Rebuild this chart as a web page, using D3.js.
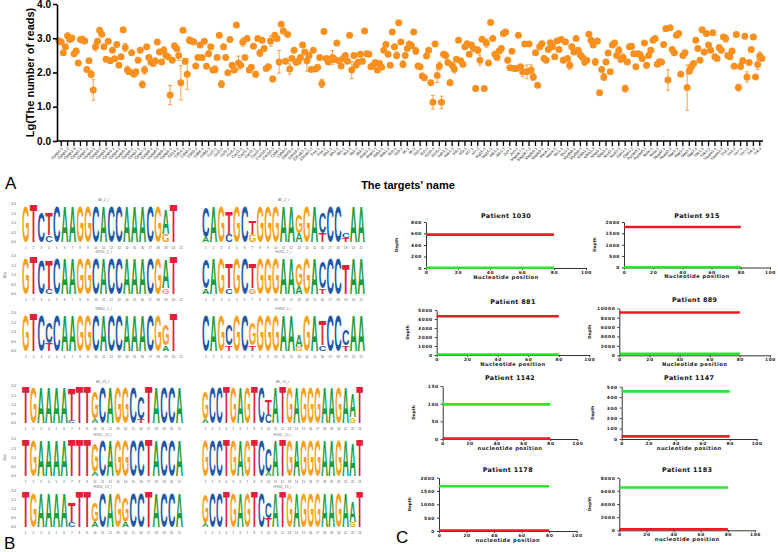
<!DOCTYPE html>
<html>
<head>
<meta charset="utf-8">
<script src="https://cdn.jsdelivr.net/npm/d3@7"></script>
<style>
  body { margin: 0; background: #fff; }
  svg { display: block; font-family: "Liberation Sans", Arial, sans-serif; }
</style>
</head>
<body>
<script>
// ---------- Panel A data ----------
var targets = [
  "Casp1-1","Casp1-2","Casp1-3","Casp2-1","Casp2-2","Casp3-1","Casp3-2","Casp3-3","Casp4-1","Casp4-2",
  "Casp6-1","Casp6-2","Casp7-1","Casp7-2","Casp8-1","Casp8-2","Casp9-1","Casp9-2","Cd14-1","Cd14-2",
  "Cd40-1","Cd40-2","Cd86-1","Cd86-2","Ccl2-1","Ccl2-2","Ccl5-1","Ccl5-2","Cxcl1-1","Cxcl1-2",
  "Cxcl2-1","Cxcl2-2","Cxcl10-1","Cxcl10-2","Cybb-1","Cybb-2","Ddx58-1","Ddx58-2","Eif2ak2-1","Eif2ak2-2",
  "Fos-1","Fos-2","Ifih1-1","Ifih1-2","Ifit1-1","Ifit1-2","Ifit3-1","Ifit3-2","Ifnar1-1","Ifnar1-2",
  "Ifnb1-1","Ifnb1-2","Il1b-1","Il1b-2","Il6-1","Il6-2","Il10-1","Il10-2","Il12b-1","Il12b-2",
  "Irak1-1","Irak1-2","Irf3-1","Irf3-2","Irf7-1","Irf7-2","Isg15-1","Isg15-2","Jak1-1","Jak1-2",
  "Jun-1","Jun-2","Map3k7-1","Map3k7-2","Mapk8-1","Mapk8-2","Mavs-1","Mavs-2","Mx1-1","Mx1-2",
  "Myd88-1","Myd88-2","Nfkb1-1","Nfkb1-2","Nlrp3-1","Nlrp3-2","Nod2-1","Nod2-2","Oas1-1","Oas1-2",
  "Pycard-1","Pycard-2","Rela-1","Rela-2","Rsad2-1","Rsad2-2","Stat1-1","Stat1-2","Stat2-1","Stat2-2",
  "Tbk1-1","Tbk1-2","Ticam1-1","Ticam1-2","Tlr3-1","Tlr3-2","Tlr7-1","Tlr7-2","Tnf-1","Tnf-2"
];

// three subtype means per target (All, H1N1, H3N2), lg of read count
var meanReads = [
  2.92,2.89,2.58,2.75,3.07,2.96,3.01,2.55,2.63,2.28,
  2.96,2.96,2.92,2.09,2.34,1.95,1.49,2.75,2.91,3.23,
  3.12,2.75,2.39,2.91,2.34,2.65,2.40,2.82,2.21,2.46,
  3.25,2.73,2.07,2.02,2.58,1.95,2.02,2.36,2.65,1.65,
  2.07,2.75,2.44,2.31,2.26,2.34,2.89,2.60,2.31,2.65,
  2.50,2.46,1.34,2.36,2.78,2.70,2.50,1.70,3.23,2.33,
  1.95,2.94,2.92,2.89,2.19,2.44,2.80,2.44,2.91,2.18,
  2.55,2.75,2.07,2.09,2.44,3.09,1.66,2.75,2.44,1.99,
  2.96,2.21,2.07,3.39,2.28,2.21,2.89,2.44,2.99,2.07,
  2.15,2.77,1.95,2.99,2.57,2.94,2.70,2.12,2.17,2.92,
  1.81,3.09,2.99,2.31,3.41,3.21,2.33,3.11,2.10,2.41,
  2.65,2.29,2.33,2.44,2.80,2.60,2.34,2.50,2.09,2.65,
  2.10,2.15,2.44,1.68,3.20,2.41,2.31,2.39,2.44,2.38,
  2.86,2.34,2.19,2.41,2.50,2.33,3.09,2.07,2.50,2.21,
  2.31,2.53,2.33,3.21,2.55,2.53,2.17,2.21,2.29,2.07,
  2.26,2.15,2.65,2.82,2.53,2.21,3.18,2.75,2.50,3.45,
  2.89,2.24,
  2.50,2.70,2.83,2.78,3.18,2.63,2.19,2.17,1.90,
  1.85,2.48,2.65,1.70,1.13,2.83,1.91,2.19,1.13,2.53,
  2.50,2.29,1.70,2.21,2.10,2.39,2.94,2.34,2.24,2.75,
  2.84,2.53,2.80,2.70,1.53,2.65,2.36,2.97,1.53,2.86,
  2.28,3.46,2.99,2.53,2.44,2.63,2.70,3.14,3.18,2.36,
  2.14,2.62,2.12,2.12,3.09,2.17,2.02,2.83,2.02,2.83,
  2.07,1.87,2.58,1.63,2.75,2.84,2.41,2.36,2.67,2.87,
  2.75,2.46,2.92,2.67,2.96,2.36,2.89,2.41,2.21,2.75,
  2.60,2.99,2.65,2.52,2.44,2.31,2.36,3.12,2.94,2.80,
  2.31,2.92,1.41,2.09,1.87,2.31,2.57,2.02,2.80,2.86,
  2.50,2.65,2.38,2.44,1.53,2.31,2.75,2.77,2.55,2.17,
  2.55,2.52,2.41,2.86,2.21,2.50,2.65,2.94,2.99,2.24,
  2.31,2.31,2.82,3.28,1.78,3.31,2.67,2.58,3.09,3.14,
  1.95,2.50,2.58,1.56,2.04,2.17,2.26,2.94,2.70,2.36,
  3.25,2.60,3.14,2.80,2.65,3.16,2.46,2.41,2.73,2.65,
  3.04,2.99,2.50,2.46,2.63,2.18,3.11,1.56,2.18,2.34,
  3.06,1.87,2.29,2.67,3.04,1.87,2.23,2.48,2.41
];

// [point index, SD] for the points that show an error bar
var readsSD = [
  [11,0.1],[15,0.1],[16,0.3],[17,0.12],[31,0.12],[32,0.12],[39,0.1],[40,0.12],[49,0.1],[52,0.28],
  [56,0.15],[57,0.5],[59,0.08],[60,0.45],[61,0.1],[70,0.08],[73,0.1],[76,0.1],[84,0.2],[86,0.12],
  [92,0.08],[94,0.1],[99,0.15],[100,0.08],[103,0.33],[108,0.15],[116,0.3],[123,0.12],[128,0.2],[137,0.25],
  [158,0.1],[161,0.1],[167,0.1],[175,0.2],[177,0.2],[178,0.12],[179,0.18],[181,0.1],[183,0.08],[185,0.12],
  [195,0.08],[196,0.1],[197,0.15],[200,0.12],[210,0.08],[217,0.15],[219,0.2],[221,0.15],[222,0.1],[227,0.08],
  [239,0.12],[240,0.08],[246,0.1],[248,0.06],[249,0.08],[251,0.1],[255,0.1],[262,0.1],[264,0.1],[265,0.1],
  [275,0.08],[281,0.08],[285,0.3],[291,0.06],[294,0.66],[296,0.1],[301,0.06],[312,0.1],[318,0.1],[319,0.1],
  [320,0.08],[322,0.15],[327,0.15],[328,0.12]
];
var readTicks = [0, 1, 2, 3, 4];

// ---------- Panel B data ----------
var logoTitles = [
  "All_2_l","All_2_r","H1N1_2_l","H1N1_2_r","H3N2_2_l","H3N2_2_r",
  "All_13_l","All_13_r","H1N1_13_l","H1N1_13_r","H3N2_13_l","H3N2_13_r"
];
// one token per position, letters listed top to bottom with their height in bits
var logoColumns = [
  "G1.9 T2 C1.6 T1.2C.35 C1.9 A1.9 A1.9 G1.9 G1.9 C1.9 A1.9 C1.9 C1.9 A1.9 A1.9 A1.9 C1.9 G1.9 A1.3G.4 T2 -",
  "C1.6A.25 A1.9 G1.9 T1.2C.4 G1.9 C1.9 T.7G.4 G1.9 G1.9 G1.9 A1.9 A1.9 G1A.5 G1.9 A1.9 C1.1T.5 C1.9 C1.9 C.3T.2 A1.9 A1.9",
  "G1.9 T2 C1.8 T1.5C.25 C1.9 A1.9 A1.9 G1.9 G1.9 C1.9 A1.9 C1.9 C1.9 A1.9 A1.9 A1.9 C1.9 G1.9 A1.5G.3 T2 -",
  "C1.5A.3 A1.9 G1.9 T1.3C.3 G1.9 C1.9 T1.3G.3 G1.9 G1.9 G1.9 A1.9 A1.9 G1.2A.4 G1.9 A1.9 C1.4T.3 C1.9 C1.9 T1.6 A1.9 A1.9",
  "G1.9 T2 C1.9 C1.1T.4 C1.9 A1.9 A1.9 G1.9 G1.9 C1.9 A1.9 C1.9 C1.9 A1.9 A1.9 A1.9 C1.9 G1.9 G1.1A.3 T2 -",
  "C1.9 A1.9 G1.9 C1.1T.3 G1.9 C1.9 G1.2T.3 G1.9 G1.9 G1.9 A1.9 A1.9 A.6G.2 G1.9 A1.9 T1.3C.3 C1.9 C1.9 C.8T.3 A1.9 A1.9",
  "T2 G1.9 A1.9 A1.9 A1.9 A1.9 T1.8C.1 T2 T2 G1.5A.2 C1.9 A1.9 G1.9 G1.9 C1.9 C1.2T.2 T2 A1.9 C1.9 C1.9 A1.9",
  "G1.5A.2 C1.9 C1.9 T2 G1.9 A1.9 G1.9 T2 C1.9 T.8C.5 A1.9 T2 G1.9 A1.9 G1.9 G1.9 G1.9 A1.9 A1.9 G1.9 A1.9 A1.3G.3 T2",
  "T2 G1.9 A1.9 A1.9 A1.9 A1.9 T2 T2 T2 G1.6A.2 C1.9 A1.9 G1.9 G1.9 C1.9 C1.9 T2 A1.9 C1.9 C1.9 A1.9",
  "G1.9 C1.9 C1.9 T2 G1.9 A1.9 G1.9 T2 C1.9 C1.3A.2 A1.9 T2 G1.9 A1.9 G1.9 G1.9 G1.9 A1.9 A1.9 G1.9 A1.9 A1.8 T2",
  "T2 G1.9 A1.9 A1.9 A1.9 A1.9 T1.1C.3 T2 T2 G1.1A.3 C1.9 A1.9 G1.9 G1.4A.3 C1.9 C1.9 T2 A1.9 C1.9 C1.9 A1.9",
  "G1.6A.2 C1.9 C1.9 T2 G1.9 A1.9 G1.9 T2 C1.9 C.9T.5 A1.9 T2 G1.9 A1.9 G1.9 G1.9 G1.9 A1.9 A1.9 G1.9 A1.9 A1.2G.3 T2"
];
var bitTicks = [0, 0.5, 1, 1.5, 2];

// ---------- Panel C data ----------
var patients   = ["Patient 1030","Patient 915","Patient 881","Patient 889","Patient 1142","Patient 1147","Patient 1178","Patient 1183"];
var depthMax   = [800, 2000, 5000, 10000, 150, 500, 2000, 8000];
var depthStep  = [200, 500, 1000, 2000, 50, 100, 500, 2000];
var depthRed   = [580, 1780, 4300, 9100, 1, 25, 20, 150];
var depthGreen = [5, 10, 50, 300, 98, 455, 1680, 6500];
var coveredSpan = [0, 80];
var positionTicks = [0, 20, 40, 60, 80, 100];
var positionTitles = ["Nucleotide position","Nucleotide position","Nucleotide position","Nucleotide position",
                      "nucleotide position","nucleotide position","nucleotide position","nucleotide position"];

// ---------- Drawing ----------
var svg = d3.select("body").append("svg").attr("width", 778).attr("height", 552);
var orange = "#f7901e";

// Panel A
var A = { left: 57, right: 763, top: 4, bottom: 141 };
var xA = d3.scaleBand().domain(targets).range([A.left + 1, A.right]);
var yA = d3.scaleLinear().domain([0, 4]).range([A.bottom, A.top]);
var gA = svg.append("g");
var bw = xA.bandwidth();
function pointX(i){
  return xA(targets[Math.floor(i / 3)]) + bw / 2 + (i % 3 - 1) * bw / 3;
}

var eb = gA.append("g").attr("stroke", "#f5a04c").attr("stroke-width", 1);
readsSD.forEach(function(e){
  var i = e[0], v = meanReads[i], cx = pointX(i);
  eb.append("line").attr("x1", cx).attr("x2", cx).attr("y1", yA(v - e[1])).attr("y2", yA(v + e[1]));
  [v - e[1], v + e[1]].forEach(function(w){
    eb.append("line").attr("x1", cx - 2).attr("x2", cx + 2).attr("y1", yA(w)).attr("y2", yA(w));
  });
});
gA.append("g").selectAll("circle").data(meanReads).join("circle")
  .attr("cx", function(d, i){ return pointX(i); })
  .attr("cy", function(d){ return yA(d); })
  .attr("r", 3.5)
  .attr("fill", orange);

var yAxisA = gA.append("g").attr("transform", "translate(" + A.left + ",0)")
  .call(d3.axisLeft(yA).tickValues(readTicks).tickSize(4).tickSizeOuter(0).tickPadding(2));
yAxisA.selectAll("text").attr("font-size", 10).attr("font-weight", "bold").attr("fill", "#000");
yAxisA.selectAll("path,line").attr("stroke", "#000").attr("stroke-width", 1.6);

var xAxisA = gA.append("g").attr("transform", "translate(0," + A.bottom + ")")
  .call(d3.axisBottom(xA).tickSize(5).tickSizeOuter(0));
xAxisA.select(".domain").attr("d", "M" + A.left + ",0H" + A.right);
xAxisA.selectAll("path,line").attr("stroke", "#000").attr("stroke-width", 1.3);
xAxisA.selectAll("text")
  .attr("font-size", 4).attr("fill", "#111")
  .attr("x", 0).attr("y", 0).attr("dy", "0.35em")
  .attr("text-anchor", "end")
  .attr("transform", "translate(1,7) rotate(-45)");

gA.append("text").attr("transform", "translate(31," + (A.top + A.bottom) / 2 + ") rotate(-90)")
  .attr("text-anchor", "middle").attr("dominant-baseline", "middle")
  .attr("font-size", 11).attr("font-weight", "bold").text("Lg(The number of reads)");
gA.append("text").attr("x", 408).attr("y", 189).attr("text-anchor", "middle")
  .attr("font-size", 11).attr("font-weight", "bold").text("The targets' name");

// panel letters
[["A", 5, 189], ["B", 4, 549], ["C", 396, 543]].forEach(function(p){
  svg.append("text").attr("x", p[1]).attr("y", p[2]).attr("font-size", 17).text(p[0]);
});

// Panel B
var letterColor = { A: "#1d9b3f", C: "#1f59a6", G: "#f5a11c", T: "#e0213a" };
var logoFrames = [
  { x0: 22, x1: 185, top: 204, base: 242 }, { x0: 202, x1: 365, top: 204, base: 242 },
  { x0: 22, x1: 185, top: 256, base: 294 }, { x0: 202, x1: 365, top: 256, base: 294 },
  { x0: 22, x1: 185, top: 313, base: 351 }, { x0: 202, x1: 365, top: 313, base: 351 },
  { x0: 22, x1: 183, top: 386, base: 423 }, { x0: 202, x1: 363, top: 386, base: 423 },
  { x0: 22, x1: 183, top: 439, base: 476 }, { x0: 202, x1: 363, top: 439, base: 476 },
  { x0: 22, x1: 183, top: 491, base: 527 }, { x0: 202, x1: 363, top: 491, base: 527 }
];
var capHeight = 0.716, fs = 10;
var gB = svg.append("g").attr("font-family", "'Liberation Sans', Arial, sans-serif");

logoColumns.forEach(function(spec, li){
  var f = logoFrames[li];
  var cols = spec.split(" ").map(function(tok){
    var out = [], m, re = /([ACGT])([\d.]+)/g;
    while ((m = re.exec(tok)) !== null) out.push({ ch: m[1], h: +m[2] });
    return out;
  });
  var pos = d3.range(1, cols.length + 1);
  var x = d3.scaleBand().domain(pos).range([f.x0, f.x1]).paddingInner(0.04);
  var y = d3.scaleLinear().domain([0, 2]).range([f.base, f.top]);
  var g = gB.append("g");

  cols.forEach(function(stack, ci){
    var yb = f.base;
    stack.slice().reverse().forEach(function(s){
      var hpx = f.base - y(s.h);
      g.append("text").text(s.ch)
        .attr("font-size", fs).attr("font-weight", "bold")
        .attr("textLength", x.bandwidth()).attr("lengthAdjust", "spacingAndGlyphs")
        .attr("fill", letterColor[s.ch])
        .attr("transform", "translate(" + x(pos[ci]) + "," + yb + ") scale(1," + (hpx / (capHeight * fs)) + ")");
      yb -= hpx;
    });
    g.append("text").attr("x", x(pos[ci]) + x.bandwidth() / 2).attr("y", f.base + 6.5)
      .attr("text-anchor", "middle").attr("font-size", 3).attr("fill", "#555").text(pos[ci]);
  });

  g.append("text").attr("x", (f.x0 + f.x1) / 2).attr("y", f.top - 3)
    .attr("text-anchor", "middle").attr("font-size", 3.6).attr("fill", "#777").text(logoTitles[li]);

  if (li % 2 === 0) {
    bitTicks.forEach(function(b){
      g.append("text").attr("x", 16).attr("y", y(b)).attr("dy", "0.35em")
        .attr("text-anchor", "end").attr("font-size", 3.6).attr("fill", "#555").text(b.toFixed(1));
    });
    if (li === 2 || li === 8) {
      g.append("text").attr("transform", "translate(6," + (f.top + f.base) / 2 + ") rotate(-90)")
        .attr("text-anchor", "middle").attr("font-size", 3.6).attr("fill", "#555").text("Bits");
    }
  }
});

// Panel C
var cFrames = [
  { x0: 426, x1: 586, top: 222, bottom: 268, titleY: 216 },
  { x0: 624, x1: 770, top: 222, bottom: 267.5, titleY: 216 },
  { x0: 436.7, x1: 589.3, top: 310, bottom: 355, titleY: 302.7 },
  { x0: 619.3, x1: 770, top: 308.3, bottom: 355.3, titleY: 300.7 },
  { x0: 442.7, x1: 577.3, top: 386, bottom: 439, titleY: 378.3 },
  { x0: 621.7, x1: 756.7, top: 386.7, bottom: 439, titleY: 378.3 },
  { x0: 439, x1: 576.7, top: 477.7, bottom: 531, titleY: 470 },
  { x0: 619.3, x1: 755, top: 477.7, bottom: 530.3, titleY: 470 }
];
var gC = svg.append("g").attr("font-family", "'DejaVu Sans', sans-serif").attr("font-weight", "bold");

patients.forEach(function(name, i){
  var f = cFrames[i];
  var x = d3.scaleLinear().domain([0, 100]).range([f.x0, f.x1]);
  var y = d3.scaleLinear().domain([0, depthMax[i]]).range([f.bottom, f.top]);
  var g = gC.append("g");

  var ya = g.append("g").attr("transform", "translate(" + f.x0 + ",0)")
    .call(d3.axisLeft(y).tickValues(d3.range(0, depthMax[i] + 1, depthStep[i]))
      .tickFormat(d3.format("d")).tickSize(2).tickSizeOuter(0).tickPadding(2));
  var xa = g.append("g").attr("transform", "translate(0," + f.bottom + ")")
    .call(d3.axisBottom(x).tickValues(positionTicks).tickSize(2).tickSizeOuter(0).tickPadding(1));
  [ya, xa].forEach(function(a){
    a.selectAll("path,line").attr("stroke", "#333").attr("stroke-width", 1);
    a.selectAll("text").attr("font-size", 4.4).attr("letter-spacing", 0.6).attr("fill", "#222")
      .attr("font-family", "'DejaVu Sans', sans-serif").attr("font-weight", "bold");
  });

  var line = d3.line().x(function(d){ return x(d[0]); }).y(function(d){ return y(d[1]); });
  [[depthRed[i], "#ec1c24"], [depthGreen[i], "#29e629"]].forEach(function(s){
    g.append("path").attr("d", line(coveredSpan.map(function(p){ return [p, s[0]]; })))
      .attr("stroke", s[1]).attr("stroke-width", 2.6).attr("fill", "none");
  });

  g.append("text").attr("x", (f.x0 + f.x1) / 2).attr("y", f.titleY).attr("dominant-baseline", "middle")
    .attr("text-anchor", "middle").attr("font-size", 6.4).attr("letter-spacing", 0.35).attr("fill", "#111").text(name);
  g.append("text").attr("x", (f.x0 + f.x1) / 2).attr("y", f.bottom + 9.5).attr("dominant-baseline", "middle")
    .attr("text-anchor", "middle").attr("font-size", 5.2).attr("letter-spacing", 0.45).attr("fill", "#222").text(positionTitles[i]);
  g.append("text").attr("transform", "translate(" + (f.x0 - 29) + "," + (f.top + f.bottom) / 2 + ") rotate(-90)")
    .attr("text-anchor", "middle").attr("dominant-baseline", "middle")
    .attr("font-size", 4.2).attr("fill", "#222").text("Depth");
});
</script>
</body>
</html>
